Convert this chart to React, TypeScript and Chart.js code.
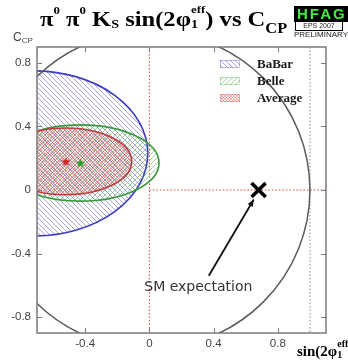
import React, { useEffect, useRef } from 'react';
import { Chart, registerables } from 'chart.js';

Chart.register(...registerables);

// ---- data ----
const experiments = ['BaBar', 'Belle', 'Average'];
const sValues = [-0.72, -0.43, -0.52]; // sin(2phi1_eff)
const sErrors = [0.71, 0.49, 0.41];
const cValues = [0.23, 0.17, 0.18]; // C_CP
const cErrors = [0.52, 0.24, 0.21];
const smExpectation = { s: 0.68, c: 0 };
const boundaryRadius = 1; // physical boundary S^2 + C^2 = 1
const sUpperLine = 1.0;
const xTicks = [-0.4, 0, 0.4, 0.8];
const yTicks = [-0.8, -0.4, 0, 0.4, 0.8];
const xRange = [-0.7, 1.1];
const yRange = [-0.9, 0.9];

// ---- styles ----
const strokeColors = ['#3b3bc4', '#3a9a3a', '#c23a3a'];
const hatchColors = ['rgba(80,80,185,0.62)', 'rgba(80,170,80,0.62)', 'rgba(210,70,70,0.6)'];
const hatchKinds: Array<'back' | 'fwd' | 'cross'> = ['back', 'fwd', 'cross'];
const hatchSizes = [5, 5, 3];
const starColors = ['#3b3bc4', '#22a022', '#d42020'];

const SERIF = '"Liberation Serif", "Times New Roman", serif';
const SANS = '"Liberation Sans", Arial, sans-serif';

function makePattern(ctx: CanvasRenderingContext2D, color: string, kind: string, size: number) {
  const c = document.createElement('canvas');
  c.width = size;
  c.height = size;
  const g = c.getContext('2d')!;
  g.strokeStyle = color;
  g.lineWidth = kind === 'cross' ? 0.7 : 0.85;
  const back = () => {
    g.beginPath();
    g.moveTo(-1, -1); g.lineTo(size + 1, size + 1);
    g.moveTo(size - 1, -1); g.lineTo(size + 1, 1);
    g.moveTo(-1, size - 1); g.lineTo(1, size + 1);
    g.stroke();
  };
  const fwd = () => {
    g.beginPath();
    g.moveTo(-1, size + 1); g.lineTo(size + 1, -1);
    g.moveTo(-1, 1); g.lineTo(1, -1);
    g.moveTo(size - 1, size + 1); g.lineTo(size + 1, size - 1);
    g.stroke();
  };
  if (kind === 'back') back();
  else if (kind === 'fwd') fwd();
  else { back(); fwd(); }
  return ctx.createPattern(c, 'repeat')!;
}

function makeStar(color: string) {
  const size = 11;
  const c = document.createElement('canvas');
  c.width = size;
  c.height = size;
  const g = c.getContext('2d')!;
  const cx = size / 2, cy = size / 2 + 0.5, R = 5, r = 2.1;
  g.beginPath();
  for (let i = 0; i < 10; i++) {
    const a = -Math.PI / 2 + (i * Math.PI) / 5;
    const rr = i % 2 === 0 ? R : r;
    const px = cx + rr * Math.cos(a), py = cy + rr * Math.sin(a);
    if (i === 0) g.moveTo(px, py); else g.lineTo(px, py);
  }
  g.closePath();
  g.fillStyle = color;
  g.fill();
  return c;
}

type Seg = { t: string; size: number; dy: number; stack?: boolean };
function drawRich(ctx: CanvasRenderingContext2D, x: number, baseline: number, segs: Seg[], family: string, weight: string) {
  let cx = x;
  let lastStart = x;
  ctx.textAlign = 'left';
  ctx.textBaseline = 'alphabetic';
  for (const s of segs) {
    ctx.font = `${weight} ${s.size}px ${family}`;
    const w = ctx.measureText(s.t).width;
    const sx = s.stack ? lastStart : cx;
    ctx.fillText(s.t, sx, baseline + s.dy);
    if (s.stack) {
      cx = Math.max(cx, sx + w);
    } else {
      lastStart = cx;
      cx += w;
    }
  }
}

const fmt = (v: number) => (Math.abs(v) < 1e-9 ? '0' : String(Number(v.toFixed(2))));

const decorPlugin = {
  id: 'decor',
  beforeDraw(chart: any) {
    const ctx = chart.ctx as CanvasRenderingContext2D;
    ctx.save();
    ctx.fillStyle = '#ffffff';
    ctx.fillRect(0, 0, chart.width, chart.height);
    ctx.restore();
  },
  beforeDatasetsDraw(chart: any) {
    const ctx = chart.ctx as CanvasRenderingContext2D;
    const { left, right, top, bottom } = chart.chartArea;
    const xs = chart.scales.x, ys = chart.scales.y;
    ctx.save();
    ctx.beginPath();
    ctx.rect(left, top, right - left, bottom - top);
    ctx.clip();

    // reference lines
    ctx.lineWidth = 1;
    ctx.setLineDash([1.5, 2]);
    ctx.strokeStyle = '#d04848';
    const x0 = xs.getPixelForValue(0), y0 = ys.getPixelForValue(0);
    ctx.beginPath(); ctx.moveTo(x0, top); ctx.lineTo(x0, bottom); ctx.stroke();
    ctx.beginPath(); ctx.moveTo(x0, y0); ctx.lineTo(right, y0); ctx.stroke();
    ctx.strokeStyle = '#8a8a8a';
    const x1 = xs.getPixelForValue(sUpperLine);
    ctx.beginPath(); ctx.moveTo(x1, top); ctx.lineTo(x1, bottom); ctx.stroke();
    ctx.setLineDash([]);

    // ellipses
    experiments.forEach((_, i) => {
      const cx = xs.getPixelForValue(sValues[i]);
      const cy = ys.getPixelForValue(cValues[i]);
      const rx = Math.abs(xs.getPixelForValue(sValues[i] + sErrors[i]) - cx);
      const ry = Math.abs(ys.getPixelForValue(cValues[i] + cErrors[i]) - cy);
      ctx.beginPath();
      ctx.ellipse(cx, cy, rx, ry, 0, 0, Math.PI * 2);
      ctx.fillStyle = makePattern(ctx, hatchColors[i], hatchKinds[i], hatchSizes[i]);
      ctx.fill();
      ctx.lineWidth = 1.6;
      ctx.strokeStyle = strokeColors[i];
      ctx.stroke();
    });

    // physical boundary circle
    const ocx = xs.getPixelForValue(0), ocy = ys.getPixelForValue(0);
    const orx = Math.abs(xs.getPixelForValue(boundaryRadius) - ocx);
    const ory = Math.abs(ys.getPixelForValue(boundaryRadius) - ocy);
    ctx.beginPath();
    ctx.ellipse(ocx, ocy, orx, ory, 0, 0, Math.PI * 2);
    ctx.lineWidth = 1.5;
    ctx.strokeStyle = '#5a5a5a';
    ctx.stroke();
    ctx.restore();
  },
  afterDatasetsDraw(chart: any) {
    const ctx = chart.ctx as CanvasRenderingContext2D;
    const { left, right, top, bottom } = chart.chartArea;
    const xs = chart.scales.x, ys = chart.scales.y;
    ctx.save();
    // frame
    ctx.strokeStyle = '#7a7a7a';
    ctx.lineWidth = 1.5;
    ctx.strokeRect(left, top, right - left, bottom - top);
    // inward ticks
    ctx.lineWidth = 1;
    const tl = 5;
    ctx.beginPath();
    xTicks.forEach((v) => {
      const p = Math.round(xs.getPixelForValue(v)) + 0.5;
      ctx.moveTo(p, bottom); ctx.lineTo(p, bottom - tl);
      ctx.moveTo(p, top); ctx.lineTo(p, top + tl);
    });
    yTicks.forEach((v) => {
      const p = Math.round(ys.getPixelForValue(v)) + 0.5;
      ctx.moveTo(left, p); ctx.lineTo(left + tl, p);
      ctx.moveTo(right, p); ctx.lineTo(right - tl, p);
    });
    ctx.stroke();

    // legend
    const lx = right - 106, ly0 = top + 13, step = 17;
    experiments.forEach((name, i) => {
      const by = ly0 + i * step;
      ctx.fillStyle = '#ffffff';
      ctx.fillRect(lx, by, 20, 8);
      ctx.fillStyle = makePattern(ctx, hatchColors[i], hatchKinds[i], hatchSizes[i]);
      ctx.fillRect(lx, by, 20, 8);
      ctx.strokeStyle = hatchColors[i];
      ctx.lineWidth = 0.6;
      ctx.strokeRect(lx + 0.5, by + 0.5, 19, 7);
      ctx.fillStyle = '#1a1a1a';
      ctx.font = `bold 13px ${SERIF}`;
      ctx.textAlign = 'left';
      ctx.textBaseline = 'middle';
      ctx.fillText(name, lx + 37, by + 4.5);
    });

    // SM expectation label and arrow
    const ax0 = xs.getPixelForValue(0.37), ay0 = ys.getPixelForValue(-0.54);
    const ax1 = xs.getPixelForValue(smExpectation.s - 0.03), ay1 = ys.getPixelForValue(smExpectation.c - 0.06);
    ctx.strokeStyle = '#111';
    ctx.fillStyle = '#111';
    ctx.lineWidth = 1.8;
    ctx.beginPath(); ctx.moveTo(ax0, ay0); ctx.lineTo(ax1, ay1); ctx.stroke();
    const ang = Math.atan2(ay1 - ay0, ax1 - ax0);
    const ah = 7, aw = 3;
    ctx.beginPath();
    ctx.moveTo(ax1, ay1);
    ctx.lineTo(ax1 - ah * Math.cos(ang) + aw * Math.sin(ang), ay1 - ah * Math.sin(ang) - aw * Math.cos(ang));
    ctx.lineTo(ax1 - ah * Math.cos(ang) - aw * Math.sin(ang), ay1 - ah * Math.sin(ang) + aw * Math.cos(ang));
    ctx.closePath();
    ctx.fill();
    ctx.fillStyle = '#333';
    ctx.font = `14px "DejaVu Sans", Verdana, sans-serif`;
    ctx.textAlign = 'center';
    ctx.textBaseline = 'middle';
    ctx.fillText('SM expectation', xs.getPixelForValue(0.305), ys.getPixelForValue(-0.615));
    ctx.restore();
  },
  afterDraw(chart: any) {
    const ctx = chart.ctx as CanvasRenderingContext2D;
    ctx.save();
    // title (slightly wide serif as in the original)
    ctx.fillStyle = '#000';
    ctx.save();
    ctx.translate(40, 0);
    ctx.scale(1.17, 1);
    drawRich(ctx, 0, 26, [
      { t: 'π', size: 21, dy: 0 },
      { t: '0', size: 11, dy: -12 },
      { t: ' π', size: 21, dy: 0 },
      { t: '0', size: 11, dy: -12 },
      { t: ' K', size: 21, dy: 0 },
      { t: 'S', size: 12, dy: 2 },
      { t: ' sin(2φ', size: 21, dy: 0 },
      { t: '1', size: 12, dy: 2 },
      { t: 'eff', size: 11, dy: -13, stack: true },
      { t: ')', size: 21, dy: 0 },
      { t: ' vs C', size: 21, dy: 0 },
      { t: 'CP', size: 14, dy: 7 },
    ], SERIF, 'bold');
    ctx.restore();

    // x axis title
    drawRich(ctx, 297, 356, [
      { t: 'sin(2φ', size: 15, dy: 0 },
      { t: '1', size: 10, dy: 2 },
      { t: 'eff', size: 10, dy: -9, stack: true },
      { t: ')', size: 15, dy: 0 },
    ], SERIF, 'bold');

    // y axis title
    ctx.fillStyle = '#444';
    drawRich(ctx, 13, 41, [
      { t: 'C', size: 12, dy: 0 },
      { t: 'CP', size: 8, dy: 2 },
    ], SANS, 'normal');

    // HFAG logo
    ctx.fillStyle = '#000';
    ctx.fillRect(294, 6, 54, 16);
    ctx.fillStyle = '#3cf03c';
    ctx.font = `bold 15px ${SANS}`;
    ctx.textAlign = 'left';
    ctx.textBaseline = 'middle';
    (ctx as any).letterSpacing = '2px';
    ctx.fillText('HFAG', 297, 14.5);
    (ctx as any).letterSpacing = '0px';
    ctx.fillStyle = '#fff';
    ctx.fillRect(295, 22, 48, 9);
    ctx.strokeStyle = '#000';
    ctx.lineWidth = 1;
    ctx.strokeRect(295.5, 21.5, 47, 9);
    ctx.fillStyle = '#222';
    ctx.font = `7px ${SANS}`;
    ctx.textAlign = 'center';
    ctx.fillText('EPS 2007', 319, 26.5);
    ctx.font = `8px ${SANS}`;
    ctx.fillText('PRELIMINARY', 321, 35);
    ctx.restore();
  },
};

export default function App() {
  const ref = useRef<HTMLCanvasElement | null>(null);
  useEffect(() => {
    if (!ref.current) return;
    const stars = experiments
      .map((name, i) => ({ name, i, x: sValues[i], y: cValues[i] }))
      .filter((p) => p.x >= xRange[0] && p.x <= xRange[1]);
    const chart = new Chart(ref.current, {
      type: 'scatter',
      data: {
        datasets: [
          ...stars.map((p) => ({
            label: p.name,
            data: [{ x: p.x, y: p.y }],
            pointStyle: makeStar(starColors[p.i]) as any,
            pointRadius: 5,
          })),
          {
            label: 'SM expectation',
            data: [{ x: smExpectation.s, y: smExpectation.c }],
            pointStyle: 'crossRot',
            pointRadius: 10,
            borderWidth: 3.5,
            borderColor: '#000',
            backgroundColor: '#000',
          },
        ],
      },
      plugins: [decorPlugin],
      options: {
        animation: false,
        responsive: false,
        devicePixelRatio: 1,
        layout: { padding: { top: 47, right: 22, left: 0, bottom: 0 } },
        plugins: { legend: { display: false }, tooltip: { enabled: false }, title: { display: false } },
        scales: {
          x: {
            type: 'linear',
            min: xRange[0],
            max: xRange[1],
            grid: { display: false, drawTicks: false },
            border: { display: false },
            afterBuildTicks: (s: any) => { s.ticks = xTicks.map((v) => ({ value: v })); },
            afterFit: (s: any) => { s.height = 29; },
            ticks: {
              padding: 4,
              color: '#444',
              font: { family: SANS, size: 11.5 },
              callback: (v: any) => fmt(Number(v)),
            },
          },
          y: {
            type: 'linear',
            min: yRange[0],
            max: yRange[1],
            grid: { display: false, drawTicks: false },
            border: { display: false },
            afterBuildTicks: (s: any) => { s.ticks = yTicks.map((v) => ({ value: v })); },
            afterFit: (s: any) => { s.width = 37; },
            ticks: {
              padding: 6,
              color: '#444',
              font: { family: SANS, size: 11.5 },
              callback: (v: any) => fmt(Number(v)),
            },
          },
        },
      } as any,
    });
    return () => chart.destroy();
  }, []);
  return (
    <div style={{ position: 'absolute', left: 0, top: 0, width: 348, height: 362 }}>
      <canvas ref={ref} width={348} height={362} style={{ width: 348, height: 362, display: 'block' }} />
    </div>
  );
}
